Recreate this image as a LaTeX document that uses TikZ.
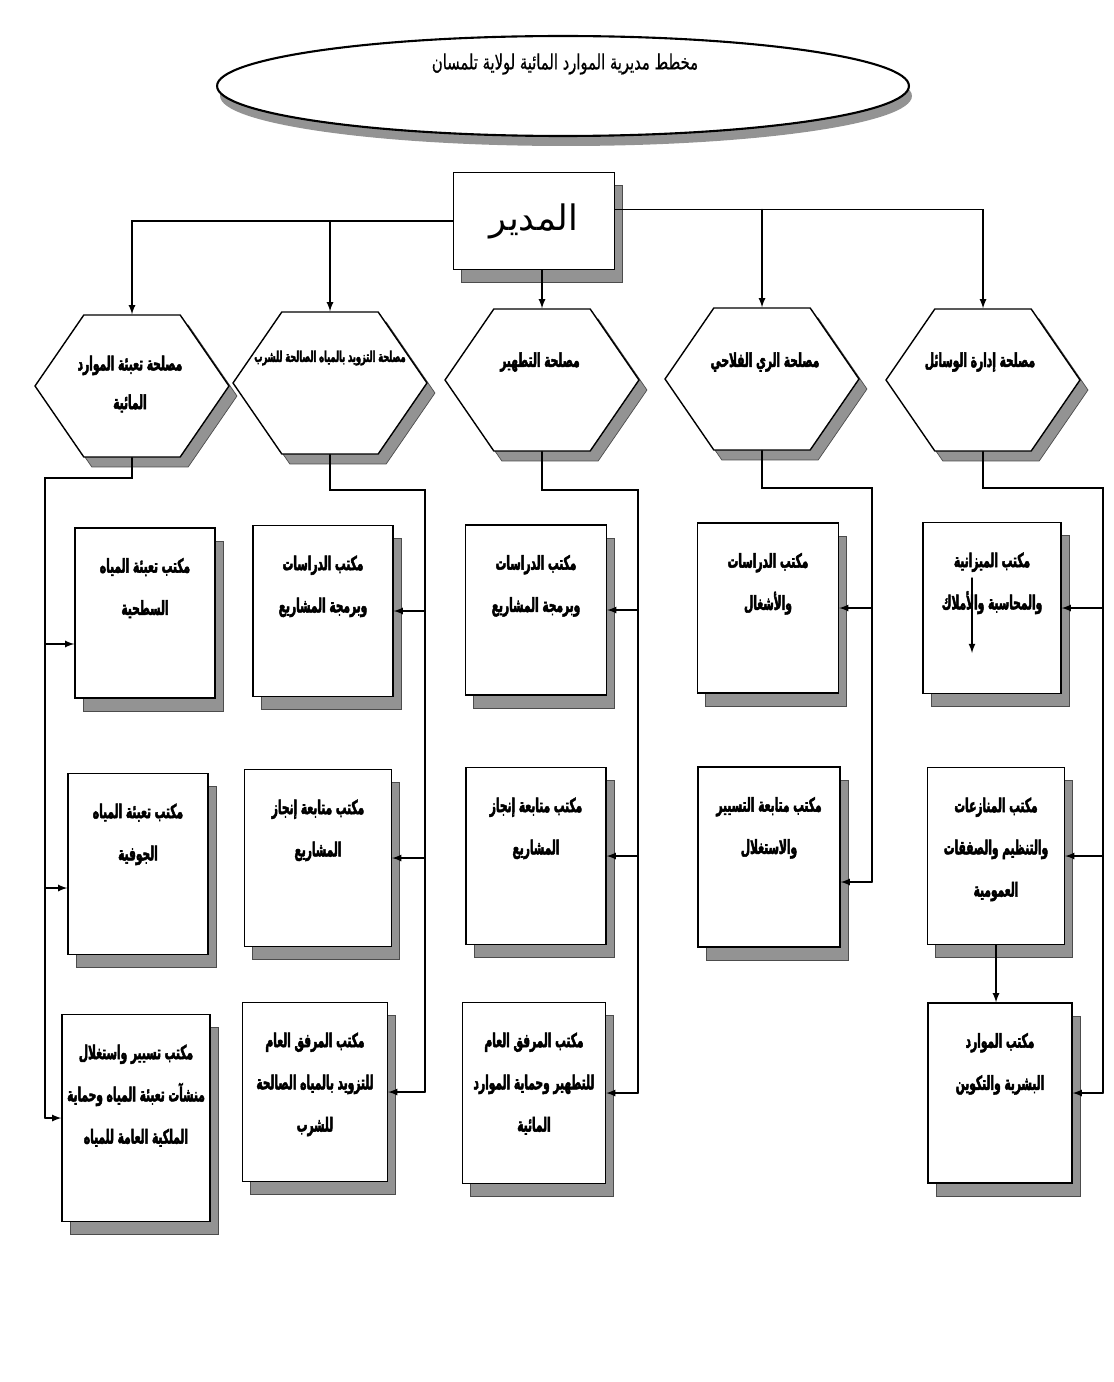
\documentclass[tikz,border=0pt]{standalone}
\usepackage{fontspec}
\usepackage{tikz}
\usetikzlibrary{shapes.geometric,shapes.symbols,shadows}
\newfontfamily\arabicfont[Script=Arabic]{DejaVu Sans}
\newfontfamily\arabicnarrow[Script=Arabic,FakeStretch=0.55,FakeBold=2.5]{DejaVu Sans Bold}
\newfontfamily\arabictitle[Script=Arabic,FakeStretch=0.7,FakeBold=0.6]{DejaVu Sans}
\TeXXeTstate=1
\newcommand{\artext}[1]{\beginR #1\endR}

\begin{document}
\begin{tikzpicture}
	[x=0.02cm,y=-0.02cm,line cap=round,thick,>=latex,
	%Styles
	office/.style={draw,fill=white,inner sep=0pt,
		drop shadow={fill=shadowgray,draw=black!70,thin,opacity=1,shadow xshift=0.16cm,shadow yshift=-0.26cm}},
	service/.style={signal,signal to=east and west,signal pointer angle=111,draw,fill=white,inner sep=0pt,
		minimum width=3.88cm,minimum height=2.84cm,
		drop shadow={fill=shadowgray,draw=black!70,thin,opacity=1,shadow xshift=0.16cm,shadow yshift=-0.2cm}},
	banner/.style={ellipse,draw,very thick,fill=white,inner sep=0pt,
		drop shadow={fill=shadowgray,opacity=1,shadow xshift=0.06cm,shadow yshift=-0.2cm}},
	office text/.style={anchor=north,inner sep=0pt,align=center,font=\arabicnarrow\fontsize{11}{24}\selectfont},
	service text/.style={inner sep=0pt,align=center,font=\arabicnarrow\fontsize{11}{22}\selectfont}
	]
	
	%Colors
	\colorlet{shadowgray}{gray!85}
	
	\useasboundingbox (0,0) rectangle (1113,1382);
	
	%Title and director
	\node [banner,minimum width=13.84cm,minimum height=2cm] (banner) at (563,86) {};
	\node [inner sep=0pt,font=\arabictitle\fontsize{12}{14}\selectfont] (title) at (565,64) {\artext{مخطط مديرية الموارد المائية لولاية تلمسان}};
	\node [office,minimum width=3.22cm,minimum height=1.94cm,font=\arabicfont\fontsize{20}{24}\selectfont] (dir) at (534,221) {\artext{المدير}};
	
	%Services
	\node [service] (h1) at (132,386) {};
	\node [service] (h2) at (330,383) {};
	\node [service] (h3) at (542,380) {};
	\node [service] (h4) at (762,379) {};
	\node [service] (h5) at (983,380) {};
	\node [service text] (h1t) at (130,384) {\artext{مصلحة تعبئة الموارد}\\\artext{المائية}};
	\node [service text,font=\arabicnarrow\fontsize{8.5}{10}\selectfont] (h2t) at (330,358) {\artext{مصلحة التزويد بالمياه الصالحة للشرب}};
	\node [service text] (h3t) at (540,362) {\artext{مصلحة التطهير}};
	\node [service text] (h4t) at (765,362) {\artext{مصلحة الري الفلاحي}};
	\node [service text] (h5t) at (980,362) {\artext{مصلحة إدارة الوسائل}};
	
	%Offices
	\node [office,minimum width=2.8cm,minimum height=3.4cm] (sb1a) at (145,613) {};
	\node [office,minimum width=2.8cm,minimum height=3.62cm] (sb1b) at (138,864) {};
	\node [office,minimum width=2.96cm,minimum height=4.14cm] (sb1c) at (136,1118) {};
	\node [office,minimum width=2.8cm,minimum height=3.42cm] (sb2a) at (323,611) {};
	\node [office,minimum width=2.94cm,minimum height=3.54cm] (sb2b) at (318,858) {};
	\node [office,minimum width=2.9cm,minimum height=3.58cm] (sb2c) at (315,1092) {};
	\node [office,minimum width=2.82cm,minimum height=3.4cm] (sb3a) at (536,610) {};
	\node [office,minimum width=2.8cm,minimum height=3.54cm] (sb3b) at (536,856) {};
	\node [office,minimum width=2.86cm,minimum height=3.62cm] (sb3c) at (534,1093) {};
	\node [office,minimum width=2.82cm,minimum height=3.4cm] (sb4a) at (768,608) {};
	\node [office,minimum width=2.84cm,minimum height=3.6cm] (sb4b) at (769,857) {};
	\node [office,minimum width=2.76cm,minimum height=3.42cm] (sb5a) at (992,608) {};
	\node [office,minimum width=2.74cm,minimum height=3.54cm] (sb5b) at (996,856) {};
	\node [office,minimum width=2.88cm,minimum height=3.6cm] (sb5c) at (1000,1093) {};
	
	\node [office text] (t1a) at ([yshift=-0.6cm]sb1a.north) {\artext{مكتب تعبئة المياه}\\\artext{السطحية}};
	\node [office text] (t1b) at ([yshift=-0.6cm]sb1b.north) {\artext{مكتب تعبئة المياه}\\\artext{الجوفية}};
	\node [office text] (t1c) at ([yshift=-0.6cm]sb1c.north) {\artext{مكتب تسيير واستغلال}\\\artext{منشآت تعبئة المياه وحماية}\\\artext{الملكية العامة للمياه}};
	\node [office text] (t2a) at ([yshift=-0.6cm]sb2a.north) {\artext{مكتب الدراسات}\\\artext{وبرمجة المشاريع}};
	\node [office text] (t2b) at ([yshift=-0.6cm]sb2b.north) {\artext{مكتب متابعة إنجاز}\\\artext{المشاريع}};
	\node [office text] (t2c) at ([yshift=-0.6cm]sb2c.north) {\artext{مكتب المرفق العام}\\\artext{للتزويد بالمياه الصالحة}\\\artext{للشرب}};
	\node [office text] (t3a) at ([yshift=-0.6cm]sb3a.north) {\artext{مكتب الدراسات}\\\artext{وبرمجة المشاريع}};
	\node [office text] (t3b) at ([yshift=-0.6cm]sb3b.north) {\artext{مكتب متابعة إنجاز}\\\artext{المشاريع}};
	\node [office text] (t3c) at ([yshift=-0.6cm]sb3c.north) {\artext{مكتب المرفق العام}\\\artext{للتطهير وحماية الموارد}\\\artext{المائية}};
	\node [office text] (t4a) at ([yshift=-0.6cm]sb4a.north) {\artext{مكتب الدراسات}\\\artext{والأشغال}};
	\node [office text] (t4b) at ([yshift=-0.6cm]sb4b.north) {\artext{مكتب متابعة التسيير}\\\artext{والاستغلال}};
	\node [office text] (t5a) at ([yshift=-0.6cm]sb5a.north) {\artext{مكتب الميزانية}\\\artext{والمحاسبة والأملاك}};
	\node [office text] (t5b) at ([yshift=-0.6cm]sb5b.north) {\artext{مكتب المنازعات}\\\artext{والتنظيم والصفقات}\\\artext{العمومية}};
	\node [office text] (t5c) at ([yshift=-0.6cm]sb5c.north) {\artext{مكتب الموارد}\\\artext{البشرية والتكوين}};
	
	%Director to services
	\coordinate (rbus) at ([yshift=0.23cm]dir.east);
	\draw[->] (dir.west) -| (h1.north);
	\draw[->] (h2.north |- dir.west) -- (h2.north);
	\draw[->] (h3.north |- dir.south) -- (h3.north);
	\draw[->] (rbus) -| (h5.north);
	\draw[->] (rbus -| h4.north) -- (h4.north);
	
	%Services to offices
	\coordinate (bus1) at (45,478);
	\coordinate (bus2) at (425,490);
	\coordinate (bus3) at (638,490);
	\coordinate (bus4) at (872,488);
	\coordinate (bus5) at (1103,488);
	\coordinate (in1a) at ([yshift=-0.62cm]sb1a.west);
	\coordinate (in1b) at ([yshift=-0.48cm]sb1b.west);
	\coordinate (in4b) at ([yshift=-0.5cm]sb4b.east);
	
	\draw (h1.south) |- (bus1) -- (bus1 |- sb1c.west);
	\draw[->] (bus1 |- in1a) -- (in1a);
	\draw[->] (bus1 |- in1b) -- (in1b);
	\draw[->] (bus1 |- sb1c.west) -- (sb1c.west);
	
	\draw (h2.south) |- (bus2) -- (bus2 |- sb2c.east);
	\draw[->] (bus2 |- sb2a.east) -- (sb2a.east);
	\draw[->] (bus2 |- sb2b.east) -- (sb2b.east);
	\draw[->] (bus2 |- sb2c.east) -- (sb2c.east);
	
	\draw (h3.south) |- (bus3) -- (bus3 |- sb3c.east);
	\draw[->] (bus3 |- sb3a.east) -- (sb3a.east);
	\draw[->] (bus3 |- sb3b.east) -- (sb3b.east);
	\draw[->] (bus3 |- sb3c.east) -- (sb3c.east);
	
	\draw (h4.south) |- (bus4) -- (bus4 |- in4b);
	\draw[->] (bus4 |- sb4a.east) -- (sb4a.east);
	\draw[->] (bus4 |- in4b) -- (in4b);
	
	\draw (h5.south) |- (bus5) -- (bus5 |- sb5c.east);
	\draw[->] (bus5 |- sb5a.east) -- (sb5a.east);
	\draw[->] (bus5 |- sb5b.east) -- (sb5b.east);
	\draw[->] (bus5 |- sb5c.east) -- (sb5c.east);
	\draw[->] (sb5b.south) -- (sb5b.south |- sb5c.north);
	
	%stray arrow in the budget office
	\coordinate (s1) at (972,578);
	\coordinate (s2) at (972,653);
	\draw[->] (s1) -- (s2);
\end{tikzpicture}
\end{document}
